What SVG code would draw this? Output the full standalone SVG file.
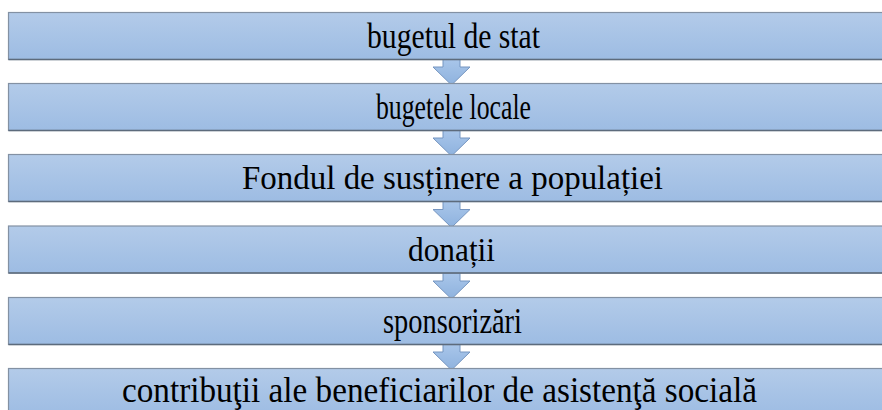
<svg xmlns="http://www.w3.org/2000/svg" width="882" height="410" viewBox="0 0 882 410">
<defs>
<linearGradient id="boxg" x1="0" y1="0" x2="0" y2="1">
<stop offset="0" stop-color="#b3cbe9"/>
<stop offset="1" stop-color="#9dbce3"/>
</linearGradient>
<linearGradient id="arrg" x1="0" y1="0" x2="0" y2="1">
<stop offset="0" stop-color="#a9c6ea"/>
<stop offset="1" stop-color="#8eb2de"/>
</linearGradient>
<path id="arrow" d="M443 0 L460 0 L460 8 L470 8 L451.5 26 L433 8 L443 8 Z"/>
</defs>
<style>
.box{fill:url(#boxg);stroke:#8391a3;stroke-width:1.2}
.shadow{stroke:#5d6b7c;stroke-width:1.5}
.arr{fill:url(#arrg);stroke:#7595c0;stroke-width:1}
text{font-family:'Liberation Serif','Times New Roman',serif;font-size:33px;fill:#000;text-anchor:middle}
.tall{font-size:36px}
</style>
<g id="connectors">
<use href="#arrow" class="arr" transform="translate(0,59)"/>
<use href="#arrow" class="arr" transform="translate(0,130)"/>
<use href="#arrow" class="arr" transform="translate(0,201.5)"/>
<use href="#arrow" class="arr" transform="translate(0,273)"/>
<use href="#arrow" class="arr" transform="translate(0,344)"/>
</g>
<g id="n1">
<rect class="box" x="8.5" y="12.5" width="890" height="47"/>
<line class="shadow" x1="8.5" y1="59.5" x2="898" y2="59.5"/>
<text class="tall" x="453.5" y="48" textLength="173" lengthAdjust="spacingAndGlyphs">bugetul de stat</text>
</g>
<g id="n2">
<rect class="box" x="8.5" y="83.5" width="890" height="47"/>
<line class="shadow" x1="8.5" y1="130.5" x2="898" y2="130.5"/>
<text class="tall" x="453.5" y="119" textLength="155" lengthAdjust="spacingAndGlyphs">bugetele locale</text>
</g>
<g id="n3">
<rect class="box" x="8.5" y="154.5" width="890" height="47"/>
<line class="shadow" x1="8.5" y1="201.5" x2="898" y2="201.5"/>
<text x="452.5" y="189" textLength="421" lengthAdjust="spacingAndGlyphs">Fondul de susținere a populației</text>
</g>
<g id="n4">
<rect class="box" x="8.5" y="226" width="890" height="47"/>
<line class="shadow" x1="8.5" y1="273" x2="898" y2="273"/>
<text x="451.5" y="260.5" textLength="87" lengthAdjust="spacingAndGlyphs">donații</text>
</g>
<g id="n5">
<rect class="box" x="8.5" y="297.5" width="890" height="47"/>
<line class="shadow" x1="8.5" y1="344.5" x2="898" y2="344.5"/>
<text class="tall" x="452.5" y="333" textLength="139" lengthAdjust="spacingAndGlyphs">sponsorizări</text>
</g>
<g id="n6">
<rect class="box" x="8.5" y="368.5" width="890" height="47"/>
<text class="tall" x="439.5" y="402" textLength="635" lengthAdjust="spacingAndGlyphs">contribuţii ale beneficiarilor de asistenţă socială</text>
</g>
</svg>
